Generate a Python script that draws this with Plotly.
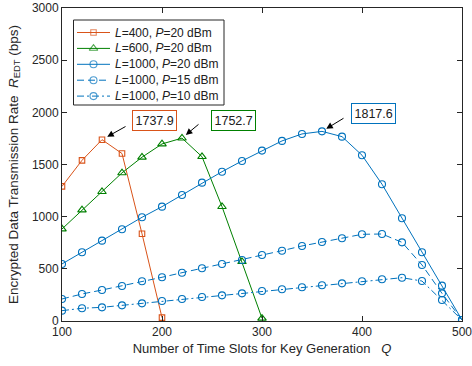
import plotly.graph_objects as go

q_400 = [100, 120, 140, 160, 180, 200]
r_400 = [1290, 1540, 1737.9, 1605, 836, 32]

q_600 = [100, 120, 140, 160, 180, 200, 220, 240, 260, 280, 300]
r_600 = [882, 1064, 1240, 1420, 1570, 1697, 1752.7, 1575, 1096, 569, 26]

q_1000 = [100, 120, 140, 160, 180, 200, 220, 240, 260, 280, 300, 320, 340, 360, 380, 400, 420, 440, 460, 480, 500]
r_1000_p20 = [547, 659, 770, 879, 994, 1096, 1208, 1326, 1431, 1534, 1633, 1726, 1793, 1817.6, 1767, 1589, 1311, 985, 659, 339, 10]
r_1000_p15 = [211, 259, 297, 336, 381, 419, 463, 505, 546, 585, 633, 674, 719, 757, 793, 831, 834, 754, 537, 265, 10]
r_1000_p10 = [99, 122, 131, 150, 169, 192, 211, 230, 246, 265, 288, 304, 323, 342, 361, 381, 400, 415, 383, 201, 10]

x_ticks = [100, 200, 300, 400, 500]
y_ticks = [0, 500, 1000, 1500, 2000, 2500, 3000]

series_names = ["<i>L</i>=400, <i>P</i>=20 dBm", "<i>L</i>=600, <i>P</i>=20 dBm",
                "<i>L</i>=1000, <i>P</i>=20 dBm", "<i>L</i>=1000, <i>P</i>=15 dBm",
                "<i>L</i>=1000, <i>P</i>=10 dBm"]

ORANGE = "#D95319"
GREEN = "#008000"
BLUE = "#0072BD"
FONT = "Liberation Sans, Arial, sans-serif"
TXT = "#262626"

styles = [
    dict(color=ORANGE, dash="solid", symbol="square-open", size=5.5),
    dict(color=GREEN, dash="solid", symbol="triangle-up-open", size=7.5),
    dict(color=BLUE, dash="solid", symbol="circle-open", size=7),
    dict(color=BLUE, dash="7px,4px", symbol="circle-open", size=7),
    dict(color=BLUE, dash="7px,3px,2px,3px", symbol="circle-open", size=7),
]
data = [(q_400, r_400), (q_600, r_600), (q_1000, r_1000_p20), (q_1000, r_1000_p15), (q_1000, r_1000_p10)]

fig = go.Figure()
for (qx, ry), st, nm in zip(data, styles, series_names):
    fig.add_trace(go.Scatter(x=qx, y=ry, mode="lines+markers", name=nm, showlegend=False,
                             line=dict(color=st["color"], width=1, dash=st["dash"]),
                             marker=dict(symbol=st["symbol"], size=st["size"], color=st["color"],
                                         line=dict(width=1.1))))

# Custom legend drawn on an overlay axis whose units are page pixels
leg_left, leg_right, leg_top, leg_bottom = 73.5, 224, 20, 105
row_y0, row_dy = 32.5, 15.9
fig.add_shape(type="rect", xref="x2", yref="y2", x0=leg_left, x1=leg_right, y0=leg_top, y1=leg_bottom,
              line=dict(color=TXT, width=1), fillcolor="white", layer="below")
for i, (st, nm) in enumerate(zip(styles, series_names)):
    yy = row_y0 + i * row_dy
    fig.add_trace(go.Scatter(x=[77, 93.5, 110], y=[yy, yy, yy], xaxis="x2", yaxis="y2",
                             mode="lines+markers", showlegend=False, hoverinfo="skip",
                             line=dict(color=st["color"], width=1, dash=st["dash"]),
                             marker=dict(symbol=st["symbol"], size=[0, st["size"], 0], color=st["color"],
                                         line=dict(width=1.1))))
    fig.add_annotation(x=113, y=yy, xref="x2", yref="y2", text=nm, showarrow=False,
                       xanchor="left", yanchor="middle",
                       font=dict(family=FONT, size=12, color="#202020"))

peaks = [
    (q_400[r_400.index(max(r_400))], max(r_400), ORANGE, 25, -14, 6, 52, 19),
    (q_600[r_600.index(max(r_600))], max(r_600), GREEN, 18, -15, 5, 51, 18),
    (q_1000[r_1000_p20.index(max(r_1000_p20))], max(r_1000_p20), BLUE, 23, -14, 5, 51, 18),
]
for px, py, col, ax, ay, so, dx, dy in peaks:
    fig.add_annotation(x=px, y=py, text="", showarrow=True, ax=ax, ay=ay, standoff=so,
                       arrowhead=2, arrowsize=1.3, arrowwidth=1, arrowcolor="black")
    fig.add_annotation(x=px, y=py, text=f"{py:.1f}", showarrow=False, xshift=dx, yshift=dy,
                       bgcolor="white", bordercolor=col, borderwidth=1, borderpad=2.5,
                       font=dict(family=FONT, size=12.5, color="#202020"))

axis_common = dict(showline=True, linecolor=TXT, linewidth=1, mirror="ticks",
                   ticks="inside", ticklen=5, tickcolor=TXT, showgrid=False, zeroline=False,
                   ticklabeloverflow="allow", automargin=False,
                   tickfont=dict(family=FONT, size=12, color=TXT))

fig.update_layout(
    width=472, height=366,
    margin=dict(l=62, r=10, t=8, b=45, autoexpand=False),
    paper_bgcolor="white", plot_bgcolor="white",
    font=dict(family=FONT, size=12, color=TXT),
    xaxis=dict(range=[100, 500], tickvals=x_ticks,
               title=dict(text="Number of Time Slots for Key Generation   <i>Q</i>", standoff=5,
                          font=dict(family=FONT, size=13, color=TXT)),
               **axis_common),
    yaxis=dict(range=[0, 3000], tickvals=y_ticks,
               title=dict(text="Encrypted Data Transmission Rate  <i>R</i><sub>EDT</sub> (bps)", standoff=10,
                          font=dict(family=FONT, size=13.5, color=TXT)),
               **axis_common),
    xaxis2=dict(overlaying="x", anchor="y2", range=[62, 462], visible=False, fixedrange=True,
                automargin=False),
    yaxis2=dict(overlaying="y", anchor="x2", range=[321, 8], visible=False, fixedrange=True,
                automargin=False),
    showlegend=False,
)

fig.write_html("out.html")
